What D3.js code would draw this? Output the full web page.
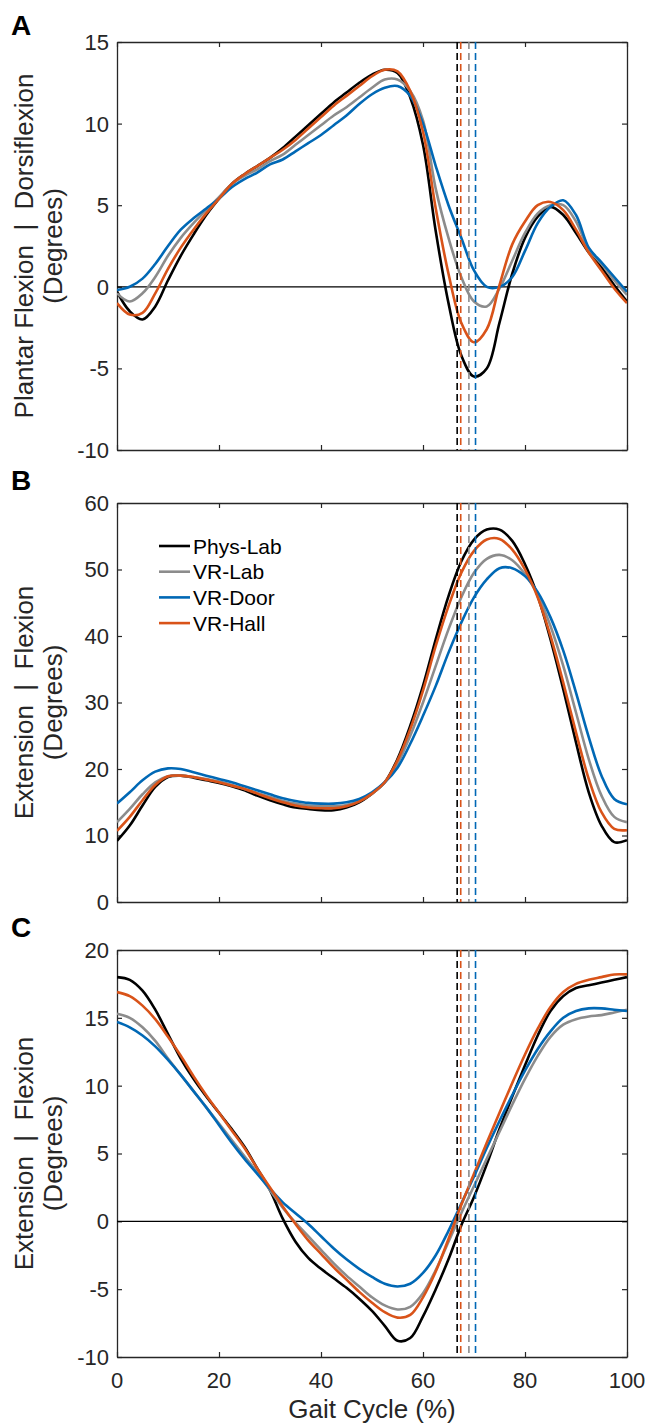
<!DOCTYPE html>
<html>
<head>
<meta charset="utf-8">
<script src="https://cdn.jsdelivr.net/npm/d3@7"></script>
<style>
  body { margin: 0; background: #fff; }
  text { font-family: "Liberation Sans", Arial, sans-serif; fill: #262626; }
</style>
</head>
<body>
<div id="chart"></div>
<script>
// gait cycle sample points (%)
const gaitPct = [0, 2.5, 5, 7.5, 10, 12.5, 15, 17.5, 20, 22.5, 25, 27.5, 30, 32.5, 35, 37.5, 40,
  42.5, 45, 47.5, 50, 52.5, 55, 57.5, 60, 62.5, 65, 67.5, 70, 72.5, 75, 77.5, 80, 82.5, 85,
  87.5, 90, 92.5, 95, 97.5, 100];

const seriesNames = ["Phys-Lab", "VR-Lab", "VR-Door", "VR-Hall"];
const seriesColors = ["#000000", "#8c8c8c", "#0068b5", "#d95319"];
// toe-off (%) per condition, drawn as dashed verticals
const toeOff = [66.7, 69.0, 70.3, 67.4];

// A: ankle plantar/dorsiflexion
const anklePhysLab = [-0.3, -1.5, -2.0, -1.2, 0.4, 1.9, 3.2, 4.4, 5.4, 6.3, 6.9, 7.4, 7.9, 8.5, 9.2, 9.9, 10.6,
  11.3, 11.9, 12.5, 13.0, 13.3, 13.1, 11.6, 8.7, 3.4, -1.0, -4.2, -5.5, -5.0, -2.2, 0.8, 3.0, 4.3, 4.9,
  4.4, 3.3, 2.1, 1.2, 0.1, -0.9];
const ankleVRLab = [-0.4, -0.9, -0.4, 0.6, 1.9, 3.0, 3.9, 4.7, 5.5, 6.3, 6.8, 7.2, 7.7, 8.1, 8.7, 9.3, 9.9,
  10.5, 11.0, 11.6, 12.2, 12.7, 12.7, 12.0, 10.2, 6.0, 3.0, 0.6, -0.9, -1.2, -0.1, 1.6, 3.3, 4.5, 5.0,
  5.0, 4.0, 2.3, 1.4, 0.4, -0.5];
const ankleVRDoor = [-0.2, 0.0, 0.5, 1.4, 2.5, 3.5, 4.2, 4.8, 5.4, 6.1, 6.6, 7.0, 7.5, 7.8, 8.3, 8.8, 9.3,
  9.9, 10.5, 11.2, 11.8, 12.2, 12.3, 11.7, 10.0, 7.4, 5.0, 3.0, 1.0, 0.0, 0.0, 0.6, 2.2, 3.9, 4.9,
  5.3, 4.4, 2.4, 1.5, 0.6, -0.3];
const ankleVRHall = [-1.0, -1.7, -1.6, -0.4, 1.1, 2.4, 3.5, 4.5, 5.4, 6.3, 6.9, 7.4, 7.9, 8.4, 9.0, 9.7, 10.4,
  11.1, 11.7, 12.3, 12.9, 13.3, 13.2, 12.0, 9.5, 4.8, 0.8, -2.2, -3.4, -2.6, 0.1, 2.6, 4.0, 5.0, 5.2,
  4.7, 3.5, 2.1, 1.0, -0.1, -1.0];

// B: knee extension/flexion
const kneePhysLab = [9.2, 11.5, 14.5, 17.3, 18.8, 19.0, 18.7, 18.3, 17.9, 17.4, 16.8, 16.0, 15.3, 14.7, 14.2, 14.0, 13.8,
  13.8, 14.2, 15.0, 16.3, 18.0, 21.5, 26.5, 32.5, 39.5, 46.0, 51.2, 54.5, 56.0, 56.0, 54.3, 50.8, 46.0, 39.5,
  32.0, 24.0, 16.5, 11.5, 9.0, 9.3];
const kneeVRLab = [12.0, 14.0, 16.2, 18.0, 18.9, 19.0, 18.8, 18.5, 18.1, 17.6, 17.0, 16.4, 15.8, 15.2, 14.8, 14.5, 14.4,
  14.4, 14.6, 15.2, 16.3, 18.0, 20.8, 25.0, 30.0, 35.5, 41.0, 45.8, 49.5, 51.6, 52.2, 51.4, 49.3, 46.2, 41.5,
  35.5, 28.5, 21.5, 16.0, 12.8, 12.0];
const kneeVRDoor = [14.8, 16.5, 18.3, 19.6, 20.1, 20.0, 19.5, 19.0, 18.5, 18.0, 17.4, 16.8, 16.2, 15.6, 15.2, 14.9, 14.8,
  14.8, 15.0, 15.5, 16.5, 18.0, 20.2, 23.8, 28.0, 32.5, 37.5, 42.0, 45.8, 48.5, 50.2, 50.2, 49.0, 46.6, 42.8,
  37.8, 31.5, 24.8, 19.0, 15.5, 14.7];
const kneeVRHall = [10.7, 12.8, 15.3, 17.6, 18.9, 19.0, 18.8, 18.4, 18.0, 17.5, 17.0, 16.3, 15.6, 15.0, 14.5, 14.2, 14.1,
  14.1, 14.4, 15.1, 16.3, 18.0, 21.3, 26.0, 31.8, 38.5, 44.5, 49.5, 52.8, 54.5, 54.6, 53.0, 50.0, 45.8, 40.0,
  33.0, 25.5, 18.5, 13.5, 11.0, 10.8];

// C: hip extension/flexion
const hipPhysLab = [18.0, 17.8, 17.0, 15.6, 13.8, 12.0, 10.5, 9.2, 8.0, 6.8, 5.5, 3.9, 2.3, 0.2, -1.5, -2.7, -3.5,
  -4.2, -4.9, -5.7, -6.6, -7.7, -8.8, -8.6, -7.0, -5.0, -2.8, -0.3, 1.8, 4.2, 6.8, 9.2, 11.5, 13.7, 15.5,
  16.6, 17.2, 17.4, 17.6, 17.8, 18.0];
const hipVRLab = [15.3, 15.0, 14.3, 13.3, 12.0, 10.8, 9.6, 8.4, 7.2, 6.0, 4.8, 3.6, 2.3, 1.0, -0.1, -1.1, -2.1,
  -3.1, -4.0, -4.8, -5.6, -6.2, -6.5, -6.3, -5.3, -3.6, -1.5, 0.6, 2.6, 4.6, 6.6, 8.6, 10.5, 12.2, 13.6,
  14.5, 14.9, 15.1, 15.2, 15.4, 15.6];
const hipVRDoor = [14.7, 14.3, 13.7, 12.9, 11.9, 10.8, 9.6, 8.4, 7.1, 5.8, 4.6, 3.5, 2.4, 1.4, 0.6, -0.2, -1.1,
  -2.0, -2.8, -3.5, -4.1, -4.6, -4.8, -4.6, -3.8, -2.5, -0.7, 1.3, 3.3, 5.4, 7.4, 9.3, 11.1, 12.7, 14.0,
  15.0, 15.5, 15.7, 15.7, 15.6, 15.5];
const hipVRHall = [16.9, 16.6, 15.9, 14.9, 13.6, 12.2, 10.7, 9.3, 8.0, 6.7, 5.4, 3.9, 2.5, 1.1, -0.2, -1.4, -2.4,
  -3.4, -4.3, -5.2, -6.0, -6.7, -7.1, -6.9, -5.6, -3.7, -1.3, 1.2, 3.5, 5.8, 8.0, 10.2, 12.3, 14.2, 15.8,
  16.9, 17.5, 17.8, 18.0, 18.2, 18.2];

const xTicks = [0, 20, 40, 60, 80, 100];

const panels = [
  { letter: "A", top: 42, bottom: 450, domain: [-10, 15], ticks: [-10, -5, 0, 5, 10, 15],
    label: "Plantar Flexion  |  Dorsiflexion", zero: true, legend: false, xLabels: false,
    series: [anklePhysLab, ankleVRLab, ankleVRDoor, ankleVRHall] },
  { letter: "B", top: 503, bottom: 902, domain: [0, 60], ticks: [0, 10, 20, 30, 40, 50, 60],
    label: "Extension  |  Flexion", zero: false, legend: true, xLabels: false,
    series: [kneePhysLab, kneeVRLab, kneeVRDoor, kneeVRHall] },
  { letter: "C", top: 950, bottom: 1357, domain: [-10, 20], ticks: [-10, -5, 0, 5, 10, 15, 20],
    label: "Extension  |  Flexion", zero: true, legend: false, xLabels: true,
    series: [hipPhysLab, hipVRLab, hipVRDoor, hipVRHall] }
];

const width = 651, height = 1425;
const left = 117, right = 627;
const axisColor = "#262626";

const svg = d3.select("#chart").append("svg")
  .attr("width", width)
  .attr("height", height);

const x = d3.scaleLinear().domain([0, 100]).range([left, right]);

panels.forEach(function(p) {
  const y = d3.scaleLinear().domain(p.domain).range([p.bottom, p.top]);
  const g = svg.append("g");
  const clipId = "clip" + p.letter;

  g.append("clipPath").attr("id", clipId)
    .append("rect")
    .attr("x", left).attr("y", p.top)
    .attr("width", right - left).attr("height", p.bottom - p.top);

  // panel letter
  svg.append("text")
    .attr("x", 11).attr("y", p.top - (p.letter === "A" ? 7 : 13))
    .attr("font-size", 28).attr("font-weight", "bold")
    .style("fill", "#000")
    .text(p.letter);

  // axes with inward ticks on all sides
  const axes = [
    [d3.axisBottom(x).tickValues(xTicks).tickSizeInner(-5), "translate(0," + p.bottom + ")"],
    [d3.axisTop(x).tickValues(xTicks).tickSizeInner(-5), "translate(0," + p.top + ")"],
    [d3.axisLeft(y).tickValues(p.ticks).tickSizeInner(-5), "translate(" + left + ",0)"],
    [d3.axisRight(y).tickValues(p.ticks).tickSizeInner(-5), "translate(" + right + ",0)"]
  ];
  axes.forEach(function(a) {
    const ax = g.append("g").attr("transform", a[1])
      .call(a[0].tickSizeOuter(0).tickFormat(""));
    ax.select(".domain").attr("stroke", axisColor).attr("stroke-width", 1.3);
    ax.selectAll(".tick line").attr("stroke", axisColor).attr("stroke-width", 1.2);
  });

  // y tick labels
  g.selectAll(".ylab").data(p.ticks).enter().append("text")
    .attr("x", left - 8).attr("y", d => y(d))
    .attr("dy", "0.36em")
    .attr("text-anchor", "end")
    .attr("font-size", 22)
    .text(d => d);

  if (p.xLabels) {
    g.selectAll(".xlab").data(xTicks).enter().append("text")
      .attr("x", d => x(d)).attr("y", p.bottom + 31)
      .attr("text-anchor", "middle")
      .attr("font-size", 22)
      .text(d => d);
    g.append("text")
      .attr("x", (left + right) / 2).attr("y", 1418)
      .attr("text-anchor", "middle")
      .attr("font-size", 26)
      .text("Gait Cycle (%)");
  }

  // y axis title (two lines)
  const cy = (p.top + p.bottom) / 2;
  g.append("text")
    .attr("transform", "translate(33," + cy + ") rotate(-90)")
    .attr("text-anchor", "middle")
    .attr("font-size", 26)
    .style("white-space", "pre")
    .text(p.label);
  g.append("text")
    .attr("transform", "translate(62," + cy + ") rotate(-90)")
    .attr("text-anchor", "middle")
    .attr("font-size", 26)
    .text("(Degrees)");

  const plot = g.append("g").attr("clip-path", "url(#" + clipId + ")");

  if (p.zero) {
    plot.append("line")
      .attr("x1", left).attr("x2", right)
      .attr("y1", y(0)).attr("y2", y(0))
      .attr("stroke", "#000").attr("stroke-width", 1.3);
  }

  const line = d3.line()
    .x((d, i) => x(gaitPct[i]))
    .y(d => y(d))
    .curve(d3.curveCatmullRom.alpha(0.5));

  p.series.forEach(function(vals, i) {
    plot.append("path")
      .datum(vals)
      .attr("fill", "none")
      .attr("stroke", seriesColors[i])
      .attr("stroke-width", 2.6)
      .attr("stroke-linejoin", "round")
      .attr("d", line);
  });

  // toe-off markers
  toeOff.forEach(function(t, i) {
    plot.append("line")
      .attr("x1", x(t)).attr("x2", x(t))
      .attr("y1", p.top).attr("y2", p.bottom)
      .attr("stroke", seriesColors[i])
      .attr("stroke-width", 1.6)
      .attr("stroke-dasharray", "7,4");
  });

  if (p.legend) {
    const lg = g.append("g");
    seriesNames.forEach(function(name, i) {
      const ly = 546 + i * 25.7;
      lg.append("line")
        .attr("x1", 159).attr("x2", 190)
        .attr("y1", ly).attr("y2", ly)
        .attr("stroke", seriesColors[i]).attr("stroke-width", 2.6);
      lg.append("text")
        .attr("x", 193).attr("y", ly)
        .attr("dy", "0.36em")
        .attr("font-size", 21)
        .style("fill", "#000")
        .text(name);
    });
  }
});
</script>
</body>
</html>
